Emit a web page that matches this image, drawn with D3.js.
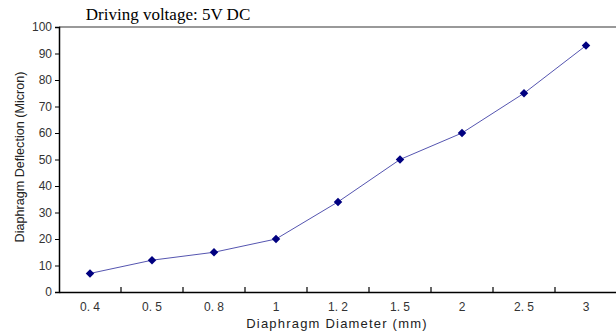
<!DOCTYPE html>
<html lang="en">
<head>
    <meta charset="UTF-8">
    <script src="https://cdn.jsdelivr.net/npm/d3@7"></script>
    <title>Diaphragm Deflection</title>
    <style>
        body { margin: 0; background: #fff; }
        svg { display: block; }
    </style>
</head>
<body>
    <div class="fig"></div>
    <script>
        // data
        const diameters = ["0. 4", "0. 5", "0. 8", "1", "1. 2", "1. 5", "2", "2. 5", "3"];
        const deflection = [7, 12, 15, 20, 34, 50, 60, 75, 93];
        const yTicks = [0, 10, 20, 30, 40, 50, 60, 70, 80, 90, 100];

        const width = 616, height = 335;
        const margin = { top: 27, right: -1, bottom: 43, left: 59 };

        const svg = d3.select(".fig").append("svg")
            .attr("width", width)
            .attr("height", height);

        const x = d3.scaleBand()
            .domain(diameters)
            .range([margin.left, width - margin.right]);

        const y = d3.scaleLinear()
            .domain([0, 100])
            .range([height - margin.bottom, margin.top]);

        // top border
        svg.append("line")
            .attr("x1", margin.left).attr("x2", width)
            .attr("y1", margin.top).attr("y2", margin.top)
            .attr("stroke", "#777").attr("stroke-width", 1.5);

        // y axis
        const yAxis = svg.append("g")
            .attr("transform", `translate(${margin.left},0)`)
            .call(d3.axisLeft(y).tickValues(yTicks).tickSize(4).tickPadding(3));
        yAxis.select(".domain").attr("stroke", "#000").attr("stroke-width", 1.5);
        yAxis.selectAll(".tick line").attr("stroke", "#000");
        yAxis.selectAll("text")
            .attr("font-family", "Liberation Sans, Arial, sans-serif")
            .attr("font-size", 12)
            .attr("fill", "#333");

        // x axis: ticks sit between categories and point up
        const xAxis = svg.append("g")
            .attr("transform", `translate(0,${height - margin.bottom})`)
            .call(d3.axisBottom(x).tickSize(0).tickPadding(10));
        xAxis.select(".domain").attr("stroke", "#000").attr("stroke-width", 1.5);
        xAxis.selectAll("text")
            .attr("font-family", "Liberation Sans, Arial, sans-serif")
            .attr("font-size", 12)
            .attr("fill", "#333");
        xAxis.selectAll(".sep")
            .data(diameters.slice(1))
            .enter()
            .append("line")
            .attr("class", "sep")
            .attr("x1", d => x(d)).attr("x2", d => x(d))
            .attr("y1", 0).attr("y2", -5)
            .attr("stroke", "#000").attr("stroke-width", 1.2);

        // line
        const line = d3.line()
            .x((d, i) => x(diameters[i]) + x.bandwidth() / 2)
            .y(d => y(d));

        svg.append("path")
            .datum(deflection)
            .attr("d", line)
            .attr("fill", "none")
            .attr("stroke", "#5555b0")
            .attr("stroke-width", 1);

        // diamond markers
        svg.selectAll(".marker")
            .data(deflection)
            .enter()
            .append("path")
            .attr("class", "marker")
            .attr("d", d3.symbol().type(d3.symbolDiamond2).size(46))
            .attr("transform", (d, i) => `translate(${x(diameters[i]) + x.bandwidth() / 2},${y(d)})`)
            .attr("fill", "#000080");

        // titles
        svg.append("text")
            .attr("x", 168).attr("y", 20)
            .attr("text-anchor", "middle")
            .attr("font-family", "Liberation Serif, Times New Roman, serif")
            .attr("font-size", 17)
            .attr("fill", "#000")
            .text("Driving voltage: 5V DC");

        svg.append("text")
            .attr("transform", "translate(24,157) rotate(-90)")
            .attr("text-anchor", "middle")
            .attr("font-family", "Liberation Sans, Arial, sans-serif")
            .attr("font-size", 12.6)
            .attr("fill", "#222")
            .text("Diaphragm Deflection (Micron)");

        svg.append("text")
            .attr("x", 337).attr("y", 328)
            .attr("text-anchor", "middle")
            .attr("font-family", "Liberation Sans, Arial, sans-serif")
            .attr("font-size", 13)
            .attr("letter-spacing", 1.2)
            .attr("fill", "#222")
            .text("Diaphragm Diameter (mm)");
    </script>
</body>
</html>
